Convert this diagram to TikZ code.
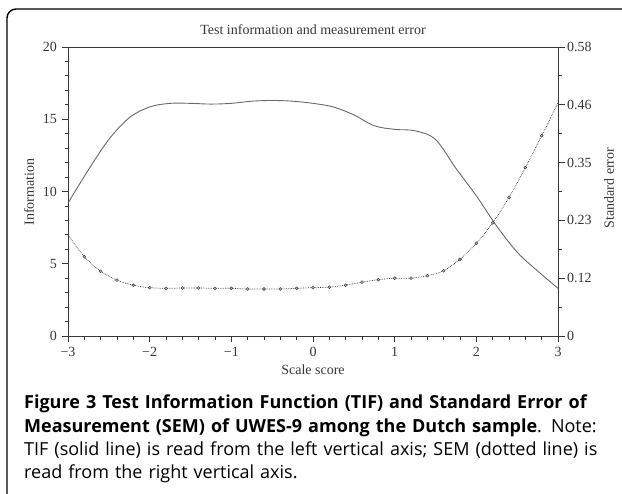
\documentclass[tikz,border=0pt]{standalone}
\usepackage{fontspec}
\setmainfont{Open Sans}
\newfontfamily\plotfont{Liberation Serif}
\usepackage{tikz}

\definecolor{axisgray}{RGB}{55,55,55}
\definecolor{curvegray}{RGB}{105,105,105}

\tikzset{
  plottext/.style={font=\plotfont\fontsize{14}{16}\selectfont, text=axisgray, inner sep=0pt},
  axisline/.style={draw=axisgray, line width=0.8pt},
  semdot/.style={draw=axisgray, fill=gray!60, line width=0.4pt}
}

\begin{document}
\begin{tikzpicture}[x=1pt, y=-1pt]
\useasboundingbox (0,0) rectangle (622,494);

% frame round the figure
\draw[line width=1.4pt, rounded corners=9pt] (7,494) -- (7,9) -- (622,9);

% plot box and ticks
\draw[axisline] (68,47) rectangle (558,336);
\foreach \v in {0,...,20} \draw[axisline] (68,{336-\v*14.45}) -- ++(-3,0);
\foreach \v in {0,5,...,20} \draw[axisline] (68,{336-\v*14.45}) -- ++(-6,0);
\foreach \i in {0,...,30} \draw[axisline] ({68+\i*16.333},336) -- ++(0,4);
\foreach \i in {0,5,...,30} \draw[axisline] ({68+\i*16.333},336) -- ++(0,6);
\foreach \i in {0,...,10} \draw[axisline] (558,{336-\i*28.9}) -- ++(4,0);
\foreach \i in {0,2,...,10} \draw[axisline] (558,{336-\i*28.9}) -- ++(7,0);

% left axis labels
\node[plottext, anchor=east] (info0) at (57,336) {0};
\node[plottext, anchor=east] (info5) at (57,263.75) {5};
\node[plottext, anchor=east] (info10) at (57,191.5) {10};
\node[plottext, anchor=east] (info15) at (57,119.25) {15};
\node[plottext, anchor=east] (info20) at (57,47) {20};

% right axis labels
\node[plottext, anchor=west] (sem0) at (567,336) {0};
\node[plottext, anchor=west] (sem12) at (567,278.2) {0.12};
\node[plottext, anchor=west] (sem23) at (567,220.4) {0.23};
\node[plottext, anchor=west] (sem35) at (567,162.6) {0.35};
\node[plottext, anchor=west] (sem46) at (567,104.8) {0.46};
\node[plottext, anchor=west] (sem58) at (567,47) {0.58};

% bottom axis labels
\node[plottext] (score-3) at (68,352) {−3};
\node[plottext] (score-2) at (149.67,352) {−2};
\node[plottext] (score-1) at (231.33,352) {−1};
\node[plottext] (score0) at (313,352) {0};
\node[plottext] (score1) at (394.67,352) {1};
\node[plottext] (score2) at (476.33,352) {2};
\node[plottext] (score3) at (558,352) {3};

% titles
\node[plottext] (title) at (313,30) {Test information and measurement error};
\node[plottext, rotate=90] (infolabel) at (29,192) {Information};
\node[plottext, rotate=90] (semlabel) at (609,188) {Standard error};
\node[plottext] (scorelabel) at (313,370) {Scale score};

% test information function
\begin{scope}[shift={(313,336)}, xscale=81.667, yscale=-14.45]
\draw[curvegray, line width=0.9pt] plot[smooth, tension=0.55] coordinates {
  (-3,9.2) (-2.75,11.5) (-2.5,13.6) (-2.25,15.1) (-2,15.85) (-1.75,16.1)
  (-1.5,16.1) (-1.25,16.05) (-1,16.1) (-0.75,16.25) (-0.5,16.3) (-0.25,16.25)
  (0,16.1) (0.25,15.85) (0.5,15.3) (0.75,14.55) (1,14.3) (1.25,14.2)
  (1.5,13.6) (1.75,11.6) (2,9.7) (2.25,7.6) (2.5,5.8) (2.75,4.5) (3,3.3)};
\end{scope}

% standard error of measurement
\begin{scope}[shift={(313,336)}, xscale=81.667, yscale=-498.3]
\draw[axisgray, line width=0.7pt, densely dotted] plot[smooth, tension=0.5] coordinates {
  (-3,0.203) (-2.8,0.159) (-2.6,0.130) (-2.4,0.112) (-2.2,0.102) (-2,0.097)
  (-1.8,0.0957) (-1.6,0.0963) (-1.4,0.0963) (-1.2,0.0957) (-1,0.0957)
  (-0.8,0.0943) (-0.6,0.0943) (-0.4,0.0943) (-0.2,0.0957) (0,0.097)
  (0.2,0.098) (0.4,0.102) (0.6,0.108) (0.8,0.113) (1,0.116) (1.2,0.116)
  (1.4,0.121) (1.6,0.131) (1.8,0.154) (2,0.186) (2.2,0.227) (2.4,0.278)
  (2.6,0.338) (2.8,0.402) (3,0.468)};
\end{scope}
\foreach \sx/\se in {-2.8/0.159, -2.6/0.130, -2.4/0.112, -2.2/0.102, -2/0.097,
  -1.8/0.0957, -1.6/0.0963, -1.4/0.0963, -1.2/0.0957, -1/0.0957, -0.8/0.0943,
  -0.6/0.0943, -0.4/0.0943, -0.2/0.0957, 0/0.097, 0.2/0.098, 0.4/0.102,
  0.6/0.108, 0.8/0.113, 1/0.116, 1.2/0.116, 1.4/0.121, 1.6/0.131, 1.8/0.154,
  2/0.186, 2.2/0.227, 2.4/0.278, 2.6/0.338, 2.8/0.402}
  \draw[semdot] ({313+\sx*81.667},{336-\se*498.3}) circle (1.5);

% caption
\node[anchor=north west, inner sep=0pt, text width=600pt, align=left,
  font=\fontsize{18}{23.3}\selectfont] (caption) at (24,395) {%
\textbf{Figure 3 Test Information Function (TIF) and Standard Error of}\\
\textbf{Measurement (SEM) of UWES-9 among the Dutch sample}. Note:\\
TIF (solid line) is read from the left vertical axis; SEM (dotted line) is\\
read from the right vertical axis.};
\end{tikzpicture}
\end{document}
